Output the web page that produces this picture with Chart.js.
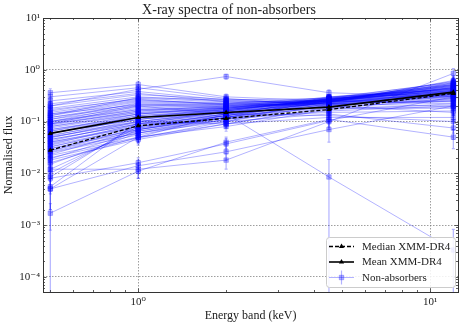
<!DOCTYPE html>
<html>
<head>
<meta charset="utf-8">
<script src="https://cdn.jsdelivr.net/npm/chart.js@4/dist/chart.umd.min.js"></script>
<style>
  html, body { margin: 0; padding: 0; background: #fff; }
  #wrap { width: 465px; height: 327px; }
</style>
</head>
<body>
<div id="wrap"><canvas id="spectra"></canvas></div>
<script>
//? DATA
const energyBands = [0.5, 1, 2, 4.5, 12];   // keV, upper edge of each XMM band
const medianFlux = [0.028, 0.083, 0.115, 0.17, 0.35];
const meanFlux = [0.059, 0.12, 0.15, 0.19, 0.37];

// one row per source: flux in 0.5, 1, 2, 4.5, 12 keV bands
const nonAbsorberFlux = [
    [0.36, 0.52, 0.30, 0.25, 0.22],
    [0.30, 0.45, 0.28, 0.20, 0.15],
    [0.25, 0.38, 0.26, 0.22, 0.20],
    [0.20, 0.33, 0.27, 0.24, 0.24],
    [0.18, 0.30, 0.25, 0.22, 0.25],
    [0.16, 0.28, 0.24, 0.25, 0.28],
    [0.15, 0.26, 0.22, 0.24, 0.30],
    [0.14, 0.25, 0.23, 0.26, 0.32],
    [0.13, 0.24, 0.22, 0.25, 0.35],
    [0.12, 0.22, 0.20, 0.24, 0.38],
    [0.12, 0.20, 0.21, 0.27, 0.33],
    [0.11, 0.19, 0.20, 0.26, 0.40],
    [0.10, 0.18, 0.19, 0.25, 0.42],
    [0.10, 0.17, 0.18, 0.27, 0.45],
    [0.09, 0.16, 0.20, 0.28, 0.38],
    [0.09, 0.15, 0.18, 0.26, 0.50],
    [0.08, 0.15, 0.17, 0.24, 0.46],
    [0.08, 0.14, 0.19, 0.27, 0.36],
    [0.075, 0.14, 0.17, 0.25, 0.44],
    [0.07, 0.13, 0.16, 0.28, 0.52],
    [0.07, 0.12, 0.18, 0.30, 0.40],
    [0.065, 0.12, 0.17, 0.26, 0.55],
    [0.06, 0.11, 0.16, 0.27, 0.48],
    [0.06, 0.11, 0.15, 0.24, 0.60],
    [0.055, 0.10, 0.16, 0.29, 0.42],
    [0.05, 0.10, 0.15, 0.25, 0.50],
    [0.05, 0.095, 0.14, 0.26, 0.45],
    [0.045, 0.09, 0.15, 0.28, 0.38],
    [0.045, 0.09, 0.13, 0.24, 0.55],
    [0.04, 0.085, 0.14, 0.27, 0.47],
    [0.04, 0.08, 0.13, 0.30, 0.42],
    [0.038, 0.08, 0.14, 0.23, 0.62],
    [0.035, 0.075, 0.12, 0.26, 0.50],
    [0.033, 0.07, 0.13, 0.25, 0.40],
    [0.03, 0.07, 0.12, 0.28, 0.58],
    [0.03, 0.065, 0.11, 0.24, 0.45],
    [0.028, 0.06, 0.12, 0.22, 0.36],
    [0.026, 0.06, 0.10, 0.26, 0.52],
    [0.025, 0.055, 0.11, 0.20, 0.30],
    [0.022, 0.05, 0.09, 0.18, 0.28],
    [0.02, 0.048, 0.10, 0.21, 0.34],
    [0.018, 0.045, 0.09, 0.19, 0.25],
    [0.016, 0.05, 0.08, 0.17, 0.22],
    [0.015, 0.06, 0.11, 0.16, 0.20],
    [0.012, 0.07, 0.13, 0.18, 0.18],
    [0.010, 0.08, 0.12, 0.15, 0.16],
    [0.0085, 0.09, 0.10, 0.14, 0.075],
    [0.0055, 0.10, 0.09, 0.12, 0.12],
    [0.005, 0.05, 0.14, 0.13, 0.10],
    [0.0017, 0.011, 0.04, 0.11, 0.05],
    [0.008, 0.016, 0.037, 0.105, 0.30],
    [0.005, 0.014, 0.026, 0.07, 0.20],
    [0.012, 0.012, 0.018, 0.10, 0.85],
    [0.09, 0.20, 0.14, 0.0085, 0.00033],
    [0.20, 0.42, 0.74, 0.36, 0.30],
    [0.14, 0.21, 0.19, 0.23, 0.31],
    [0.11, 0.23, 0.21, 0.22, 0.27],
    [0.095, 0.17, 0.19, 0.24, 0.34],
    [0.085, 0.16, 0.18, 0.25, 0.40],
    [0.065, 0.14, 0.18, 0.23, 0.37],
    [0.058, 0.13, 0.17, 0.26, 0.44],
    [0.052, 0.12, 0.16, 0.22, 0.33],
    [0.048, 0.11, 0.17, 0.27, 0.52],
    [0.042, 0.10, 0.15, 0.23, 0.35],
    [0.036, 0.09, 0.16, 0.25, 0.48],
    [0.032, 0.08, 0.14, 0.21, 0.31],
    [0.027, 0.075, 0.13, 0.24, 0.43],
    [0.023, 0.07, 0.12, 0.22, 0.39],
    [0.019, 0.065, 0.12, 0.20, 0.33],
    [0.17, 0.27, 0.21, 0.21, 0.26],
    [0.22, 0.35, 0.24, 0.19, 0.19],
    [0.13, 0.29, 0.26, 0.28, 0.36],
    [0.10, 0.21, 0.22, 0.29, 0.56],
];

// 1-sigma errors, same layout as nonAbsorberFlux
const nonAbsorberErr = [
    [0.07, 0.08, 0.04, 0.04, 0.06],
    [0.06, 0.07, 0.04, 0.03, 0.05],
    [0.05, 0.05, 0.03, 0.03, 0.06],
    [0.04, 0.04, 0.03, 0.03, 0.06],
    [0.03, 0.04, 0.03, 0.03, 0.07],
    [0.03, 0.03, 0.02, 0.03, 0.07],
    [0.03, 0.03, 0.02, 0.03, 0.08],
    [0.02, 0.03, 0.02, 0.03, 0.08],
    [0.02, 0.03, 0.02, 0.03, 0.09],
    [0.02, 0.02, 0.02, 0.03, 0.09],
    [0.02, 0.02, 0.02, 0.03, 0.08],
    [0.02, 0.02, 0.02, 0.03, 0.10],
    [0.02, 0.02, 0.02, 0.03, 0.10],
    [0.02, 0.02, 0.02, 0.03, 0.11],
    [0.02, 0.02, 0.02, 0.03, 0.09],
    [0.02, 0.02, 0.02, 0.03, 0.12],
    [0.02, 0.02, 0.02, 0.03, 0.11],
    [0.02, 0.02, 0.02, 0.03, 0.09],
    [0.015, 0.02, 0.02, 0.03, 0.11],
    [0.015, 0.02, 0.02, 0.03, 0.12],
    [0.015, 0.02, 0.02, 0.03, 0.10],
    [0.015, 0.02, 0.02, 0.03, 0.13],
    [0.015, 0.015, 0.02, 0.03, 0.12],
    [0.015, 0.015, 0.02, 0.03, 0.15],
    [0.012, 0.015, 0.02, 0.03, 0.10],
    [0.012, 0.015, 0.02, 0.03, 0.12],
    [0.012, 0.015, 0.02, 0.03, 0.11],
    [0.01, 0.015, 0.02, 0.03, 0.09],
    [0.01, 0.015, 0.02, 0.03, 0.13],
    [0.01, 0.012, 0.02, 0.03, 0.11],
    [0.01, 0.012, 0.02, 0.03, 0.10],
    [0.01, 0.012, 0.02, 0.03, 0.16],
    [0.008, 0.012, 0.02, 0.03, 0.12],
    [0.008, 0.01, 0.02, 0.03, 0.10],
    [0.008, 0.01, 0.02, 0.03, 0.14],
    [0.008, 0.01, 0.015, 0.03, 0.11],
    [0.007, 0.01, 0.015, 0.03, 0.09],
    [0.007, 0.01, 0.015, 0.03, 0.13],
    [0.006, 0.01, 0.015, 0.03, 0.08],
    [0.006, 0.01, 0.015, 0.03, 0.08],
    [0.005, 0.01, 0.015, 0.03, 0.09],
    [0.005, 0.01, 0.015, 0.03, 0.07],
    [0.005, 0.01, 0.015, 0.03, 0.06],
    [0.005, 0.01, 0.015, 0.03, 0.06],
    [0.004, 0.012, 0.02, 0.03, 0.06],
    [0.004, 0.012, 0.02, 0.03, 0.05],
    [0.004, 0.015, 0.015, 0.03, 0.03],
    [0.006, 0.015, 0.015, 0.03, 0.05],
    [0.003, 0.01, 0.02, 0.03, 0.04],
    [0.0009, 0.003, 0.01, 0.03, 0.02],
    [0.004, 0.004, 0.01, 0.03, 0.08],
    [0.003, 0.004, 0.008, 0.03, 0.07],
    [0.005, 0.004, 0.006, 0.03, 0.20],
    [0.02, 0.03, 0.02, 0.01, 0.0005],
    [0.04, 0.06, 0.08, 0.05, 0.08],
    [0.03, 0.03, 0.02, 0.03, 0.08],
    [0.02, 0.03, 0.02, 0.03, 0.07],
    [0.02, 0.02, 0.02, 0.03, 0.09],
    [0.02, 0.02, 0.02, 0.03, 0.10],
    [0.015, 0.02, 0.02, 0.03, 0.09],
    [0.012, 0.02, 0.02, 0.03, 0.11],
    [0.012, 0.02, 0.02, 0.03, 0.08],
    [0.01, 0.015, 0.02, 0.03, 0.13],
    [0.01, 0.015, 0.02, 0.03, 0.09],
    [0.008, 0.015, 0.02, 0.03, 0.12],
    [0.008, 0.012, 0.02, 0.03, 0.08],
    [0.007, 0.012, 0.02, 0.03, 0.11],
    [0.006, 0.012, 0.015, 0.03, 0.10],
    [0.005, 0.01, 0.015, 0.03, 0.08],
    [0.03, 0.04, 0.03, 0.03, 0.07],
    [0.04, 0.05, 0.03, 0.03, 0.06],
    [0.03, 0.04, 0.03, 0.03, 0.09],
    [0.02, 0.03, 0.03, 0.04, 0.14],
];

const SERIF = "'Liberation Serif', 'DejaVu Serif', serif";
const BLUE = 'rgba(0, 0, 255, 0.3)';
const GRID = 'rgba(120, 120, 120, 0.9)';
const SUP = { '-': '\u207B', '0': '\u2070', '1': '\u00B9', '2': '\u00B2', '3': '\u00B3',
              '4': '\u2074', '5': '\u2075', '6': '\u2076', '7': '\u2077', '8': '\u2078', '9': '\u2079' };

//?FUNCTIONS
function isPow(v) {
    if (!v || v <= 0) return false;
    const e = Math.log10(v);
    return Math.abs(e - Math.round(e)) < 1e-6;
}

function powLabel(v) {
    if (!isPow(v)) return '';
    const e = String(Math.round(Math.log10(v)));
    return '10' + e.split('').map(c => SUP[c]).join('');
}

function toPoints(vals) {
    return vals.map((v, i) => ({ x: energyBands[i], y: v }));
}

//? error bars under the blue spectra
const errorBars = {
    id: 'errorBars',
    beforeDatasetsDraw(chart) {
        const { ctx, chartArea: a, scales: { x, y } } = chart;
        ctx.save();
        ctx.beginPath();
        ctx.rect(a.left, a.top, a.right - a.left, a.bottom - a.top);
        ctx.clip();
        ctx.strokeStyle = BLUE;
        ctx.lineWidth = 1.2;
        nonAbsorberFlux.forEach((row, r) => {
            row.forEach((v, i) => {
                const e = nonAbsorberErr[r][i];
                const px = x.getPixelForValue(energyBands[i]);
                const top = y.getPixelForValue(v + e);
                const lo = v - e;
                const bot = lo > 0 ? y.getPixelForValue(lo) : a.bottom + 5;
                ctx.beginPath();
                ctx.moveTo(px, top); ctx.lineTo(px, bot);
                ctx.moveTo(px - 1.5, top); ctx.lineTo(px + 1.5, top);
                if (lo > 0) { ctx.moveTo(px - 1.5, bot); ctx.lineTo(px + 1.5, bot); }
                ctx.stroke();
            });
        });
        ctx.restore();
    }
};

//? frame + inward ticks on all four sides (matplotlib look)
const axesFrame = {
    id: 'axesFrame',
    afterDatasetsDraw(chart) {
        const { ctx, chartArea: a, scales: { x, y } } = chart;
        const seg = (x1, y1, x2, y2) => { ctx.beginPath(); ctx.moveTo(x1, y1); ctx.lineTo(x2, y2); ctx.stroke(); };
        ctx.save();
        ctx.strokeStyle = '#333';
        ctx.lineWidth = 0.8;
        for (let e = -5; e <= 1; e++) {
            for (let s = 1; s <= 9; s++) {
                const v = s * Math.pow(10, e);
                const L = s === 1 ? 3.5 : 2;
                if (v > x.min && v < x.max) {
                    const p = Math.round(x.getPixelForValue(v)) + 0.5;
                    seg(p, a.bottom, p, a.bottom - L);
                    seg(p, a.top, p, a.top + L);
                }
                if (v > y.min && v < y.max) {
                    const p = Math.round(y.getPixelForValue(v)) + 0.5;
                    seg(a.left, p, a.left + L, p);
                    seg(a.right, p, a.right - L, p);
                }
            }
        }
        ctx.lineWidth = 1;
        ctx.strokeRect(Math.round(a.left) + 0.5, Math.round(a.top) + 0.5,
                       Math.round(a.right - a.left), Math.round(a.bottom - a.top));
        ctx.restore();
    }
};

//? legend box bottom right inside the axes
const insetLegend = {
    id: 'insetLegend',
    afterDraw(chart) {
        const { ctx, chartArea: a } = chart;
        const w = 129, h = 50;
        const bx = a.right - 3 - w, by = a.bottom - 5 - h;
        ctx.save();
        ctx.fillStyle = 'rgba(255,255,255,0.85)';
        ctx.strokeStyle = '#cccccc';
        ctx.lineWidth = 1;
        ctx.beginPath();
        ctx.roundRect(bx + 0.5, by + 0.5, w, h, 3);
        ctx.fill(); ctx.stroke();

        const entries = chart.data.datasets.slice(0, 3);
        const x1 = bx + 3, x2 = bx + 28, mx = (x1 + x2) / 2;
        entries.forEach((ds, k) => {
            const yy = by + 9.5 + k * 15.5;
            ctx.strokeStyle = ds.borderColor;
            ctx.lineWidth = ds.borderWidth;
            ctx.setLineDash(ds.borderDash || []);
            ctx.beginPath(); ctx.moveTo(x1, yy); ctx.lineTo(x2, yy); ctx.stroke();
            ctx.setLineDash([]);
            if (k === 2) {
                ctx.lineWidth = 1.2;
                ctx.beginPath(); ctx.moveTo(mx, yy - 7); ctx.lineTo(mx, yy + 7); ctx.stroke();
            }
            ctx.fillStyle = ds.pointBackgroundColor;
            ctx.strokeStyle = ds.pointBorderColor;
            ctx.lineWidth = ds.pointBorderWidth;
            Chart.helpers.drawPoint(ctx, {
                pointStyle: ds.pointStyle, radius: ds.pointRadius, borderWidth: ds.pointBorderWidth, rotation: 0
            }, mx, yy);
            ctx.fillStyle = '#222';
            ctx.font = '11px ' + SERIF;
            ctx.textBaseline = 'middle';
            ctx.fillText(ds.label, bx + 36, yy + 0.5);
        });
        ctx.restore();
    }
};

//? DATASETS
const datasets = [
    {
        label: 'Median XMM-DR4', data: toPoints(medianFlux),
        borderColor: '#000', borderWidth: 1.3, borderDash: [4, 2],
        pointStyle: 'triangle', pointRadius: 3, pointBackgroundColor: '#000', pointBorderColor: '#000', pointBorderWidth: 0
    },
    {
        label: 'Mean XMM-DR4', data: toPoints(meanFlux),
        borderColor: '#000', borderWidth: 1.6,
        pointStyle: 'triangle', pointRadius: 3, pointBackgroundColor: '#000', pointBorderColor: '#000', pointBorderWidth: 0
    },
];
nonAbsorberFlux.forEach((row, r) => {
    datasets.push({
        label: r === 0 ? 'Non-absorbers' : '', data: toPoints(row),
        borderColor: BLUE, borderWidth: 1,
        pointStyle: 'rect', pointRadius: 3.2, pointBackgroundColor: BLUE, pointBorderColor: BLUE, pointBorderWidth: 0.8
    });
});

const tickFont = { family: SERIF, size: 11 };

new Chart(document.getElementById('spectra'), {
    type: 'line',
    data: { datasets },
    plugins: [errorBars, axesFrame, insetLegend],
    options: {
        responsive: true,
        maintainAspectRatio: false,
        animation: false,
        layout: { padding: { left: 0, right: 7, top: 0, bottom: 0 } },
        elements: { line: { tension: 0, fill: false } },
        scales: {
            x: {
                type: 'logarithmic', min: 0.472, max: 12.45,
                afterFit: (s) => { s.height = 35; },
                grid: { drawTicks: false, lineWidth: 0.8, color: (c) => isPow(c.tick && c.tick.value) ? GRID : 'rgba(0,0,0,0)' },
                border: { display: false, dash: [1.5, 1.5] },
                ticks: { autoSkip: false, maxRotation: 0, padding: 4, color: '#222', font: tickFont, callback: (v) => powLabel(v) },
                title: { display: true, text: 'Energy band (keV)', color: '#222', font: { family: SERIF, size: 12 }, padding: { top: 0, bottom: 4 } }
            },
            y: {
                type: 'logarithmic', min: 5.1e-5, max: 10,
                afterFit: (s) => { s.width = 43; },
                grid: { drawTicks: false, lineWidth: 0.8, color: (c) => isPow(c.tick && c.tick.value) ? GRID : 'rgba(0,0,0,0)' },
                border: { display: false, dash: [1.5, 1.5] },
                ticks: { autoSkip: false, padding: 3, color: '#222', font: tickFont, callback: (v) => powLabel(v) },
                title: { display: true, text: 'Normalised flux', color: '#222', font: { family: SERIF, size: 12 }, padding: { top: 2, bottom: 0 } }
            }
        },
        plugins: {
            legend: { display: false },
            tooltip: { enabled: false },
            title: {
                display: true, text: 'X-ray spectra of non-absorbers', color: '#222',
                font: { family: SERIF, size: 14, weight: 'normal', lineHeight: 1.1 },
                padding: { top: 2.6, bottom: 0 }
            }
        }
    }
});
</script>
</body>
</html>
